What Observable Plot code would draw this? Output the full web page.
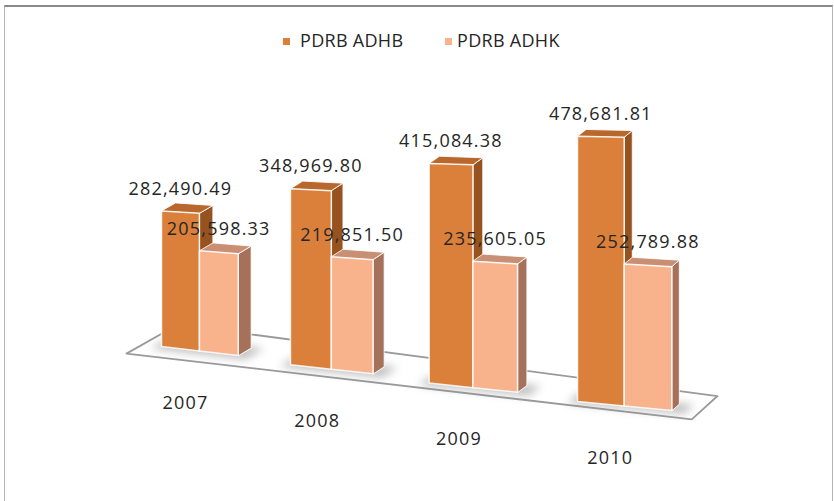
<!DOCTYPE html>
<html>
<head>
<meta charset="utf-8">
<script src="https://cdn.jsdelivr.net/npm/d3@7"></script>
<script src="https://cdn.jsdelivr.net/npm/@observablehq/plot@0.6"></script>
<style>
  html, body { margin: 0; padding: 0; background: #fff; }
  #wrap { position: relative; width: 834px; height: 501px; overflow: hidden; font-family: "Open Sans", sans-serif; }
  #frame { position: absolute; left: 4px; top: 5px; width: 829px; height: 520px; box-sizing: border-box;
           border: 1px solid #b4b4b4; border-top: 2px solid #8a8a8a; }
  .sw { position: absolute; width: 7px; height: 7px; }
  .lt { position: absolute; font-size: 18px; line-height: 18px; color: #262626; white-space: nowrap; letter-spacing: 0.3px; }
  #chart { position: absolute; left: 0; top: 0; }
</style>
</head>
<body>
<div id="wrap">
  <div id="frame"></div>
  <div id="chart"></div>
  <div id="legend"></div>
</div>
<script>
// ---- data ----
const years = ["2007", "2008", "2009", "2010"];
const adhb = [282490.49, 348969.80, 415084.38, 478681.81];
const adhk = [205598.33, 219851.50, 235605.05, 252789.88];
const seriesNames = ["PDRB ADHB", "PDRB ADHK"];

// ---- style / layout (3D look) ----
const colors = {
  front: ["#DA803A", "#F8B38D"],
  top:   ["#B8682D", "#C98F74"],
  side:  ["#97531F", "#A6715A"]
};
const X_DOMAIN = [0, 3], X_RANGE = [161, 577];          // group units -> px
const Y_DOMAIN = [0, 500000], Y_RANGE = [346, 106];      // value units -> px
const pxPerU = (X_RANGE[1] - X_RANGE[0]) / (X_DOMAIN[1] - X_DOMAIN[0]);
const pxPerV = (Y_RANGE[0] - Y_RANGE[1]) / (Y_DOMAIN[1] - Y_DOMAIN[0]);
const BAR_W = 0.302;     // bar width in group units
const WARP = 0.035;      // horizontal perspective
const GROW = 0.0513;     // height perspective growth per group
const DROP_G = 18.3, DROP_IN = 15;  // baseline drop (px) per group / within group
const DEPTH = t => [14 - 1.8 * t, 8 - 0.4 * t];  // depth vector (px)

const warp = t => t * (1 + WARP * (t - 3));
function P(t, i, v, d, base) {
  const [dx, dy] = DEPTH(t);
  const drop = base != null ? base : DROP_G * i + DROP_IN * (t - i);
  return {
    x: warp(t) + d * dx / pxPerU,
    y: v * (1 + GROW * t) - drop / pxPerV + d * dy / pxPerV
  };
}

// ---- build faces ----
const faces = {side: [[], []], top: [[], []], front: [[], []]};
const shadows = [];
const valueLabels = [];
const yearLabels = [];
years.forEach((yr, i) => {
  [adhb[i], adhk[i]].forEach((v, j) => {
    const tl = i + j * BAR_W, tr = tl + BAR_W;
    const FBL = P(tl, i, 0, 0), FBR = P(tr, i, 0, 0);
    const FTL = P(tl, i, v, 0), FTR = P(tr, i, v, 0);
    const BTL = P(tl, i, v, 1), BTR = P(tr, i, v, 1), BBR = P(tr, i, 0, 1);
    const id = yr + "-" + j;
    const push = (arr, pts) => pts.forEach(p => arr.push({id, x: p.x, y: p.y}));
    push(faces.front[j], [FBL, FTL, FTR, FBR]);
    push(faces.side[j], [FBR, FTR, BTR, BBR]);
    push(faces.top[j], [FTL, BTL, BTR, FTR]);
    const c = P((tl + tr) / 2, i, v, 0);
    valueLabels.push({x: c.x, y: c.y, text: d3.format(",.2f")(v)});
  });
  // soft ground shadow for the group
  const a = i - 0.05, b = i + 2 * BAR_W + 0.09;
  [P(a, i, 0, -0.35), P(b, i, 0, -0.35), P(b, i, 0, 1.1), P(a, i, 0, 1.1)]
    .forEach(p => shadows.push({id: yr, x: p.x, y: p.y}));
  const g = P(i + BAR_W, i, 0, 0);
  yearLabels.push({x: g.x, y: g.y, text: yr});
});

// floor (ground plane)
const fl = -0.1, fr = 3.8, fd0 = -1.6, fd1 = 2.0;
const fb = t => 17.5 * t - 4;
const floor = [
  P(fl, 0, 0, fd0, fb(fl)), P(fl, 0, 0, fd1, fb(fl)),
  P(fr, 0, 0, fd1, fb(fr)), P(fr, 0, 0, fd0, fb(fr))
];

const polyMarks = [];
["side", "top", "front"].forEach(k => {
  [0, 1].forEach(j => {
    polyMarks.push(Plot.line(faces[k][j], {
      x: "x", y: "y", z: "id", curve: "linear-closed",
      fill: colors[k][j], stroke: "#fff", strokeWidth: k === "front" ? 1.5 : 1, strokeOpacity: 0.85
    }));
  });
});

const chart = Plot.plot({
  width: 834,
  height: 501,
  margin: 0,
  style: {background: "transparent", fontFamily: "'Open Sans', sans-serif", overflow: "visible"},
  x: {type: "linear", domain: X_DOMAIN, range: X_RANGE, axis: null},
  y: {type: "linear", domain: Y_DOMAIN, range: Y_RANGE, axis: null},
  marks: [
    Plot.line(floor, {x: "x", y: "y", curve: "linear-closed", fill: "#fff", stroke: "#9a9a9a", strokeWidth: 1.8}),
    Plot.line(shadows, {x: "x", y: "y", z: "id", curve: "linear-closed", fill: "#8c8c8c", fillOpacity: 0.55,
      stroke: "none", imageFilter: "blur(4px)"}),
    ...polyMarks,
    Plot.text(valueLabels, {x: "x", y: "y", text: "text", dy: -23, fontSize: 18, fill: "#262626"}),
    Plot.text(yearLabels, {x: "x", y: "y", text: "text", dx: -14, dy: 52, fontSize: 18, fill: "#262626"})
  ]
});
chart.querySelectorAll("g[aria-label=text] text").forEach(t => t.setAttribute("letter-spacing", "1.2"));
document.getElementById("chart").appendChild(chart);

// legend
const lg = document.getElementById("legend");
const legendPos = [{sw: 283, tx: 300}, {sw: 445, tx: 457}];
seriesNames.forEach((name, j) => {
  const s = document.createElement("div");
  s.className = "sw";
  s.style.left = legendPos[j].sw + "px"; s.style.top = "38px";
  s.style.background = colors.front[j];
  lg.appendChild(s);
  const t = document.createElement("div");
  t.className = "lt";
  t.style.left = legendPos[j].tx + "px"; t.style.top = "31px";
  t.textContent = name;
  lg.appendChild(t);
});
</script>
</body>
</html>
